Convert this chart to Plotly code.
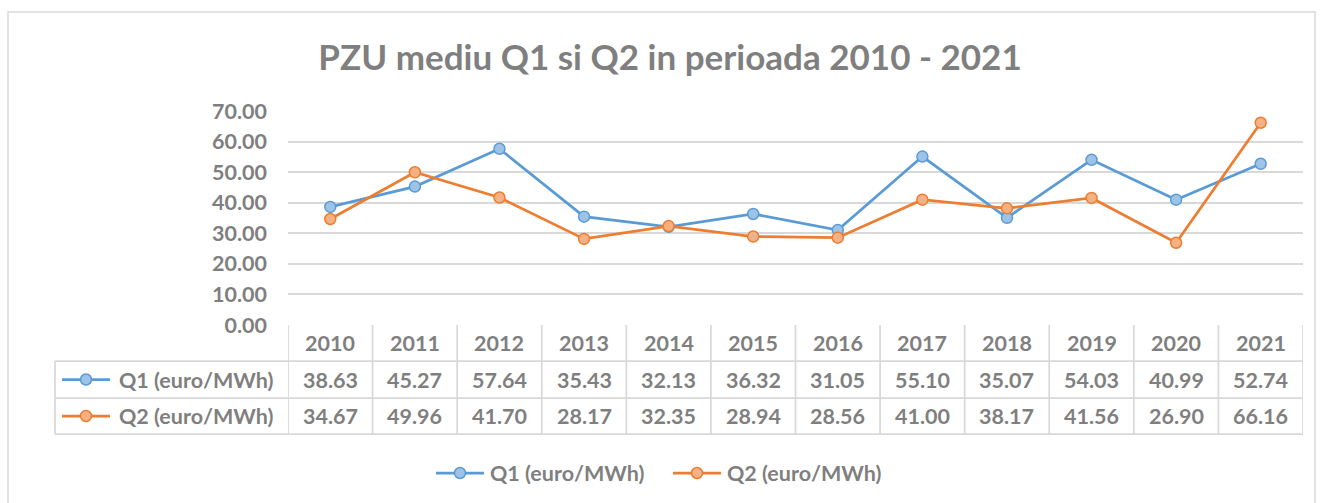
import plotly.graph_objects as go

years = ["2010", "2011", "2012", "2013", "2014", "2015", "2016", "2017", "2018", "2019", "2020", "2021"]
q1 = [38.63, 45.27, 57.64, 35.43, 32.13, 36.32, 31.05, 55.10, 35.07, 54.03, 40.99, 52.74]
q2 = [34.67, 49.96, 41.70, 28.17, 32.35, 28.94, 28.56, 41.00, 38.17, 41.56, 26.90, 66.16]
series_names = ["Q1 (euro/MWh)", "Q2 (euro/MWh)"]
title_text = "PZU mediu Q1 si Q2 in perioada 2010 - 2021"

W, H = 1320, 503
FONT = "Lato"
GRAY = "#7f7f7f"
GRID = "#d9d9d9"
line_colors = ["#5b9bd5", "#ed7d31"]
fill_colors = ["#9dc3e6", "#f4b183"]
TXT = 21.5


def px(x):
    return x / W


def py(y):
    return 1 - y / H


PLOT_L, PLOT_R = 288, 1303
Y_TOP, Y_ZERO = 111, 325
ROW_H = [325, 361, 398, 434]
LABEL_L = 55

xs = list(range(len(years)))
fig = go.Figure()
for name, vals, lc, fc in zip(series_names, [q1, q2], line_colors, fill_colors):
    fig.add_trace(go.Scatter(
        x=xs, y=vals, name=name, mode="lines+markers",
        line=dict(color=lc, width=2.75),
        marker=dict(size=11, color=fc, line=dict(color=lc, width=1.5)),
        hoverinfo="skip", showlegend=False,
    ))

shapes = []
annotations = []
shapes.append(dict(type="rect", xref="paper", yref="paper", x0=px(8), x1=px(1315), y0=py(520), y1=py(12),
                   line=dict(color="#d9d9d9", width=1.5), fillcolor="rgba(0,0,0,0)", layer="below"))

for k in range(len(years) + 1):
    shapes.append(dict(type="line", xref="x", yref="paper", x0=k - 0.5, x1=k - 0.5,
                       y0=py(ROW_H[0]), y1=py(ROW_H[3]), line=dict(color=GRID, width=1.75)))
shapes.append(dict(type="line", xref="paper", yref="paper", x0=px(LABEL_L), x1=px(LABEL_L),
                   y0=py(ROW_H[1]), y1=py(ROW_H[3]), line=dict(color=GRID, width=1.75)))
for yv in ROW_H[1:]:
    shapes.append(dict(type="line", xref="paper", yref="paper", x0=px(LABEL_L), x1=px(PLOT_R),
                       y0=py(yv), y1=py(yv), line=dict(color=GRID, width=1.75)))


def key(xc, yc, r):
    shapes.append(dict(type="line", xref="paper", yref="paper", x0=px(xc - 24), x1=px(xc + 24),
                       y0=py(yc), y1=py(yc), line=dict(color=line_colors[r], width=2.75)))
    shapes.append(dict(type="circle", xref="paper", yref="paper", x0=px(xc - 5.5), x1=px(xc + 5.5),
                       y0=py(yc + 5.5), y1=py(yc - 5.5),
                       line=dict(color=line_colors[r], width=1.5), fillcolor=fill_colors[r]))


def label(x, y, text, anchor="left"):
    annotations.append(dict(x=px(x), y=py(y), xref="paper", yref="paper", text=text,
                            showarrow=False, font=dict(family=FONT, size=TXT, color=GRAY, weight="bold"),
                            xanchor=anchor, yanchor="middle"))


for i, yr in enumerate(years):
    annotations.append(dict(x=i, y=py((ROW_H[0] + ROW_H[1]) / 2), xref="x", yref="paper", text=yr,
                            showarrow=False, font=dict(family=FONT, size=TXT, color=GRAY, weight="bold"),
                            xanchor="center", yanchor="middle"))
for r, (name, vals) in enumerate(zip(series_names, [q1, q2])):
    yc = (ROW_H[r + 1] + ROW_H[r + 2]) / 2
    for i, v in enumerate(vals):
        annotations.append(dict(x=i, y=py(yc), xref="x", yref="paper", text=f"{v:.2f}",
                                showarrow=False, font=dict(family=FONT, size=TXT, color=GRAY, weight="bold"),
                                xanchor="center", yanchor="middle"))
    label(117, yc, name)
    key(86, yc, r)

# bottom legend
LEG_Y = 473
key(460, LEG_Y, 0)
label(488, LEG_Y, series_names[0])
key(697, LEG_Y, 1)
label(725, LEG_Y, series_names[1])

fig.update_layout(
    width=W, height=H,
    margin=dict(l=0, r=0, t=0, b=0, autoexpand=False),
    paper_bgcolor="white", plot_bgcolor="white",
    title=dict(text=title_text, x=px(670), xanchor="center", y=py(58), yanchor="middle",
               font=dict(family=FONT, size=35, color=GRAY, weight="bold")),
    xaxis=dict(domain=[px(PLOT_L), px(PLOT_R)], range=[-0.5, len(years) - 0.5], automargin=False,
               showgrid=False, zeroline=False, showline=False, showticklabels=False, fixedrange=True),
    yaxis=dict(domain=[py(Y_ZERO), py(Y_TOP)], range=[0, 70], dtick=10, tickformat=".2f", automargin=False,
               showgrid=True, gridcolor=GRID, gridwidth=1.75, zeroline=False, showline=False,
               tickfont=dict(family=FONT, size=TXT, color=GRAY, weight="bold"), ticklabelstandoff=20),
    showlegend=False,
    shapes=shapes, annotations=annotations,
)

fig.write_html("out.html", config={"displayModeBar": False},
               post_script="document.body.style.margin='0';document.body.style.overflow='hidden';")
